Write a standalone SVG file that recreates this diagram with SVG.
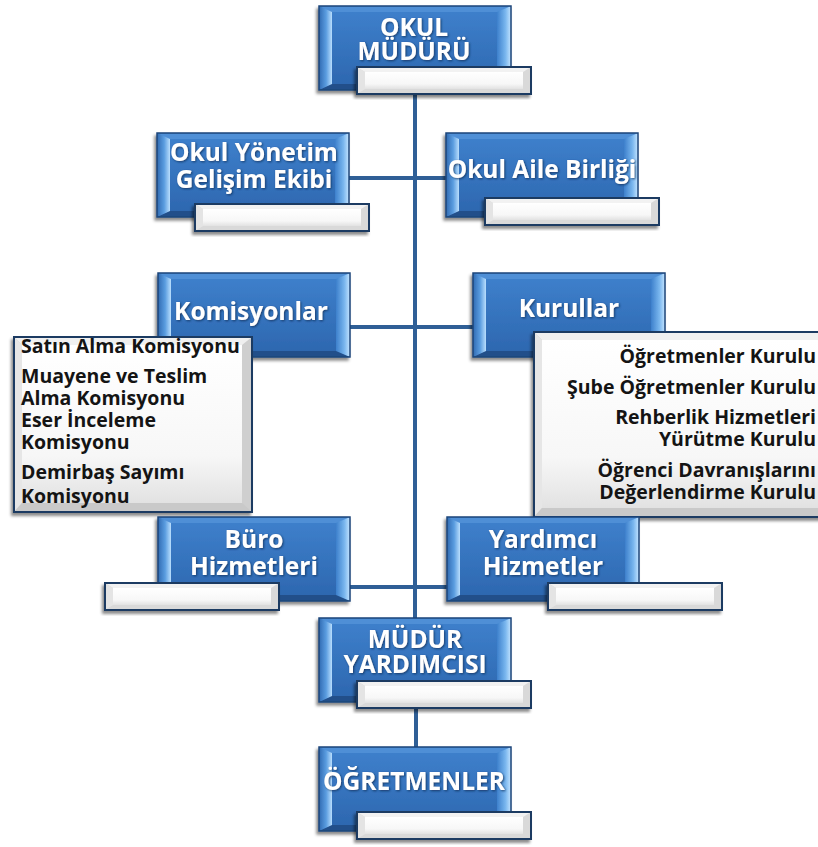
<svg xmlns="http://www.w3.org/2000/svg" xmlns:xlink="http://www.w3.org/1999/xlink" width="818" height="847" viewBox="0 0 818 847">
<defs>
  <style>
    .t{font-family:"Open Sans","Liberation Sans",Arial,sans-serif;font-weight:bold;font-size:24.5px;fill:#fff;text-anchor:middle}
    .l{font-family:"Open Sans","Liberation Sans",Arial,sans-serif;font-weight:bold;font-size:19.5px;fill:#141414}
    .r{text-anchor:end}
    .c{stroke:#2f5f96;stroke-width:4;fill:none}
  </style>
  <linearGradient id="face" x1="0" y1="0" x2="0" y2="1">
    <stop offset="0" stop-color="#3f81cd"/>
    <stop offset="1" stop-color="#2c66ae"/>
  </linearGradient>
  <linearGradient id="bevL" x1="0" y1="0" x2="1" y2="0">
    <stop offset="0" stop-color="#2f6ab2"/>
    <stop offset="0.55" stop-color="#5b9de0"/>
    <stop offset="1" stop-color="#b9defd"/>
  </linearGradient>
  <linearGradient id="bevR" x1="0" y1="0" x2="1" y2="0">
    <stop offset="0" stop-color="#3d80cc"/>
    <stop offset="0.6" stop-color="#79b6ee"/>
    <stop offset="1" stop-color="#c4e4ff"/>
  </linearGradient>
  <linearGradient id="wface" x1="0" y1="0" x2="0" y2="1">
    <stop offset="0" stop-color="#ffffff"/>
    <stop offset="0.7" stop-color="#f7f7f7"/>
    <stop offset="1" stop-color="#e2e2e2"/>
  </linearGradient>
  <filter id="sh" x="-10%" y="-10%" width="120%" height="130%">
    <feDropShadow dx="-2" dy="3" stdDeviation="1.6" flood-color="#000" flood-opacity="0.45"/>
  </filter>
  <filter id="ts" x="-5%" y="-20%" width="110%" height="140%">
    <feDropShadow dx="1" dy="1" stdDeviation="0.8" flood-color="#0b2a55" flood-opacity="0.8"/>
  </filter>
  <g id="bb">
    <rect width="192" height="84" fill="url(#face)"/>
    <polygon points="0,0 192,0 180,6 12,6" fill="#4f8fd6"/>
    <polygon points="0,84 192,84 180,78 12,78" fill="#234f8a"/>
    <polygon points="0,0 13,6 13,78 0,84" fill="url(#bevL)"/>
    <polygon points="192,0 178,6 178,78 192,84" fill="url(#bevR)"/>
    <rect width="192" height="84" fill="none" stroke="#1d4679" stroke-width="1.5"/>
  </g>
  <g id="wb">
    <rect width="174" height="27" fill="#d9d9d9"/>
    <polygon points="0,0 174,0 166,5 8,5" fill="#f2f2f2"/>
    <polygon points="0,0 8,5 8,22 0,27" fill="#e4e4e4"/>
    <rect x="8" y="5" width="158" height="17" fill="url(#wface)"/>
    <rect width="174" height="27" fill="none" stroke="#1c3a62" stroke-width="2"/>
  </g>
</defs>
<rect width="818" height="847" fill="#fff"/>

<g id="connectors">
  <line class="c" x1="415" y1="90" x2="415" y2="620"/>
  <line class="c" x1="416" y1="706" x2="416" y2="749"/>
  <line class="c" x1="348" y1="178" x2="449" y2="178"/>
  <line class="c" x1="348" y1="327" x2="475" y2="327"/>
  <line class="c" x1="347" y1="587" x2="449" y2="587"/>
</g>

<g id="okul-muduru">
  <use xlink:href="#bb" x="319" y="6" filter="url(#sh)"/>
  <use xlink:href="#wb" x="357" y="67" filter="url(#sh)"/>
  <text class="t" x="414" y="36" filter="url(#ts)">OKUL</text>
  <text class="t" x="414" y="60" filter="url(#ts)">MÜDÜRÜ</text>
</g>

<g id="okul-yonetim">
  <use xlink:href="#bb" x="157" y="133" filter="url(#sh)"/>
  <use xlink:href="#wb" x="195" y="204" filter="url(#sh)"/>
  <text class="t" x="254" y="161" filter="url(#ts)">Okul Yönetim</text>
  <text class="t" x="254" y="188" filter="url(#ts)">Gelişim Ekibi</text>
</g>

<g id="okul-aile">
  <use xlink:href="#bb" x="446" y="133" filter="url(#sh)"/>
  <use xlink:href="#wb" x="485" y="198" filter="url(#sh)"/>
  <text class="t" x="542" y="178" filter="url(#ts)">Okul Aile Birliği</text>
</g>

<g id="komisyonlar">
  <use xlink:href="#bb" x="158" y="273" filter="url(#sh)"/>
  <text class="t" x="251" y="320" filter="url(#ts)">Komisyonlar</text>
  <g filter="url(#sh)">
    <rect x="14" y="337" width="238" height="175" fill="#cfcfcf"/>
    <polygon points="14,337 252,337 242,345 22,345" fill="#f0f0f0"/>
    <polygon points="14,337 22,345 22,503 14,512" fill="#e6e6e6"/>
    <polygon points="14,512 252,512 242,503 22,503" fill="#c9c9c9"/>
    <rect x="22" y="345" width="220" height="158" fill="url(#wface)"/>
    <rect x="14" y="337" width="238" height="175" fill="none" stroke="#1c3a62" stroke-width="2"/>
  </g>
  <text class="l" x="21" y="353">Satın Alma Komisyonu</text>
  <text class="l" x="21" y="383">Muayene ve Teslim</text>
  <text class="l" x="21" y="405">Alma Komisyonu</text>
  <text class="l" x="21" y="427">Eser İnceleme</text>
  <text class="l" x="21" y="449">Komisyonu</text>
  <text class="l" x="21" y="479">Demirbaş Sayımı</text>
  <text class="l" x="21" y="503">Komisyonu</text>
</g>

<g id="kurullar">
  <use xlink:href="#bb" x="473" y="273" filter="url(#sh)"/>
  <text class="t" x="569" y="317" filter="url(#ts)">Kurullar</text>
  <g filter="url(#sh)">
    <rect x="534" y="332" width="300" height="185" fill="#cfcfcf"/>
    <polygon points="534,332 834,332 824,340 542,340" fill="#f0f0f0"/>
    <polygon points="534,332 542,340 542,508 534,517" fill="#e6e6e6"/>
    <polygon points="534,517 834,517 824,508 542,508" fill="#c9c9c9"/>
    <rect x="542" y="340" width="282" height="168" fill="url(#wface)"/>
    <rect x="534" y="332" width="300" height="185" fill="none" stroke="#1c3a62" stroke-width="2"/>
  </g>
  <text class="l r" x="816" y="363">Öğretmenler Kurulu</text>
  <text class="l r" x="816" y="394">Şube Öğretmenler Kurulu</text>
  <text class="l r" x="816" y="424">Rehberlik Hizmetleri</text>
  <text class="l r" x="816" y="446">Yürütme Kurulu</text>
  <text class="l r" x="816" y="477">Öğrenci Davranışlarını</text>
  <text class="l r" x="816" y="499">Değerlendirme Kurulu</text>
</g>

<g id="buro">
  <use xlink:href="#bb" x="158" y="517" filter="url(#sh)"/>
  <use xlink:href="#wb" x="105" y="583" filter="url(#sh)"/>
  <text class="t" x="254" y="548" filter="url(#ts)">Büro</text>
  <text class="t" x="254" y="575" filter="url(#ts)">Hizmetleri</text>
</g>

<g id="yardimci">
  <use xlink:href="#bb" x="447" y="517" filter="url(#sh)"/>
  <use xlink:href="#wb" x="548" y="583" filter="url(#sh)"/>
  <text class="t" x="543" y="548" filter="url(#ts)">Yardımcı</text>
  <text class="t" x="543" y="575" filter="url(#ts)">Hizmetler</text>
</g>

<g id="mudur-yardimcisi">
  <use xlink:href="#bb" x="319" y="618" filter="url(#sh)"/>
  <use xlink:href="#wb" x="357" y="681" filter="url(#sh)"/>
  <text class="t" x="415" y="648" filter="url(#ts)">MÜDÜR</text>
  <text class="t" x="415" y="673" filter="url(#ts)">YARDIMCISI</text>
</g>

<g id="ogretmenler">
  <use xlink:href="#bb" x="319" y="747" filter="url(#sh)"/>
  <use xlink:href="#wb" x="357" y="812" filter="url(#sh)"/>
  <text class="t" x="414" y="790" filter="url(#ts)">ÖĞRETMENLER</text>
</g>
</svg>
